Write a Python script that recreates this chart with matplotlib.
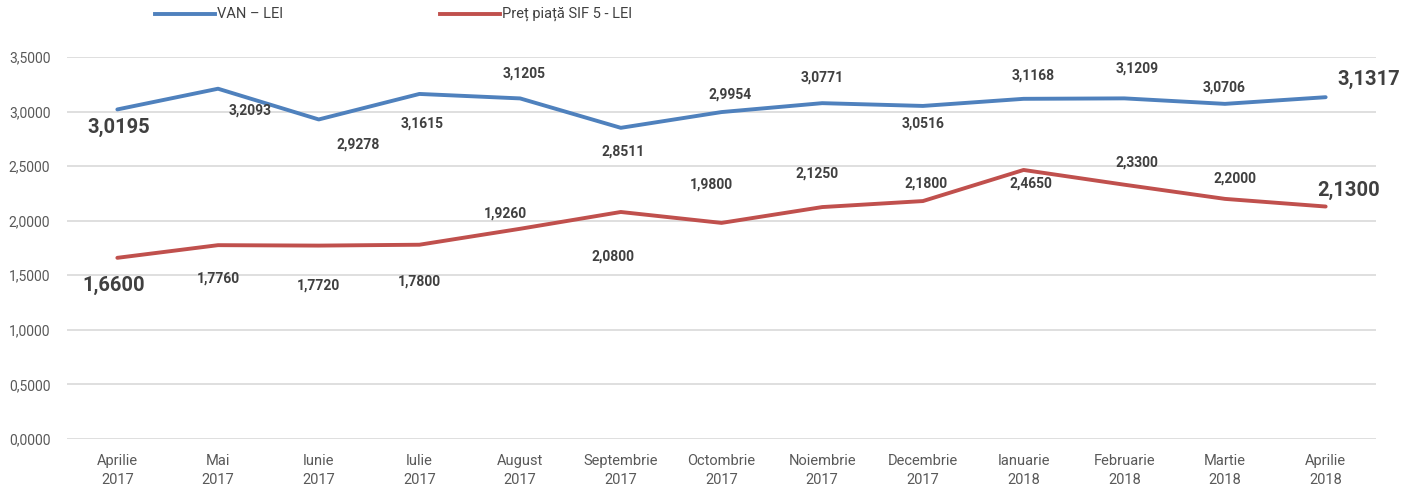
import matplotlib
matplotlib.use("Agg")
import matplotlib.pyplot as plt
from matplotlib.lines import Line2D

plt.rcParams['font.family'] = ['Roboto', 'DejaVu Sans']

categories = ["Aprilie\n2017", "Mai\n2017", "Iunie\n2017", "Iulie\n2017", "August\n2017",
              "Septembrie\n2017", "Octombrie\n2017", "Noiembrie\n2017", "Decembrie\n2017",
              "Ianuarie\n2018", "Februarie\n2018", "Martie\n2018", "Aprilie\n2018"]
van = [3.0195, 3.2093, 2.9278, 3.1615, 3.1205, 2.8511, 2.9954, 3.0771, 3.0516,
       3.1168, 3.1209, 3.0706, 3.1317]
pret = [1.6600, 1.7760, 1.7720, 1.7800, 1.9260, 2.0800, 1.9800, 2.1250, 2.1800,
        2.4650, 2.3300, 2.2000, 2.1300]
y_ticks = [0, 0.5, 1.0, 1.5, 2.0, 2.5, 3.0, 3.5]

# label offsets in pixels (dx, dy)
van_off = [(1, -18), (32, -22), (39, -25), (3, -30), (4, 25), (2, -24), (9, 18),
           (0, 26), (0, -18), (10, 23), (13, 30), (-1, 16), (43, 18)]
pret_off = [(-4, -28), (0, -33), (0, -40), (0, -37), (-15, 15), (-8, -45), (-10, 38),
            (-5, 34), (3, 18), (7, -14), (13, 22), (10, 20), (23, 16)]

BLUE = "#4F81BD"
RED = "#C0504D"
LBL = "#404040"
TICK = "#595959"

def fmt(v):
    return f"{v:.4f}".replace(".", ",")

fig = plt.figure(figsize=(14.21, 4.92), dpi=100)
ax = fig.add_axes([67/1421, 1 - 439/492, (1376 - 67)/1421, (439 - 57)/492])

x = list(range(len(categories)))
ax.plot(x, van, color=BLUE, lw=2.8, solid_capstyle='round', zorder=3)
ax.plot(x, pret, color=RED, lw=2.8, solid_capstyle='round', zorder=3)

ax.set_xlim(-0.5, len(categories) - 0.5)
ax.set_ylim(0, 3.5)
ax.set_yticks(y_ticks)
ax.set_yticklabels([fmt(t) for t in y_ticks], color=TICK, fontsize=10)
ax.set_xticks(x)
ax.set_xticklabels(categories, color=TICK, fontsize=10.5, linespacing=1.45)
ax.tick_params(axis='both', length=0)
ax.tick_params(axis='x', pad=11)
ax.tick_params(axis='y', pad=12)
ax.grid(axis='y', color="#D9D9D9", lw=1.2)
ax.set_axisbelow(True)
for s in ax.spines.values():
    s.set_visible(False)

last = len(categories) - 1
for i, (v, (dx, dy)) in enumerate(zip(van, van_off)):
    big = i in (0, last)
    ax.annotate(fmt(v), (i, v), xytext=(dx, dy), textcoords='offset pixels',
                ha='center', va='center', color=LBL, fontweight='bold',
                fontsize=14.5 if big else 10)
for i, (v, (dx, dy)) in enumerate(zip(pret, pret_off)):
    big = i in (0, last)
    ax.annotate(fmt(v), (i, v), xytext=(dx, dy), textcoords='offset pixels',
                ha='center', va='center', color=LBL, fontweight='bold',
                fontsize=14.5 if big else 10)

# legend drawn manually
def leg(x0, x1, y, color, label):
    fig.add_artist(Line2D([x0/1421, x1/1421], [1 - y/492, 1 - y/492],
                          color=color, lw=2.8, transform=fig.transFigure))
    fig.text((x1 + 2)/1421, 1 - y/492, label, ha='left', va='center',
             color=LBL, fontsize=10.5)

leg(155, 215, 14, BLUE, "VAN – LEI")
leg(440, 500, 14, RED, "Preț piață SIF 5 - LEI")

fig.savefig("out.png", dpi=100)
